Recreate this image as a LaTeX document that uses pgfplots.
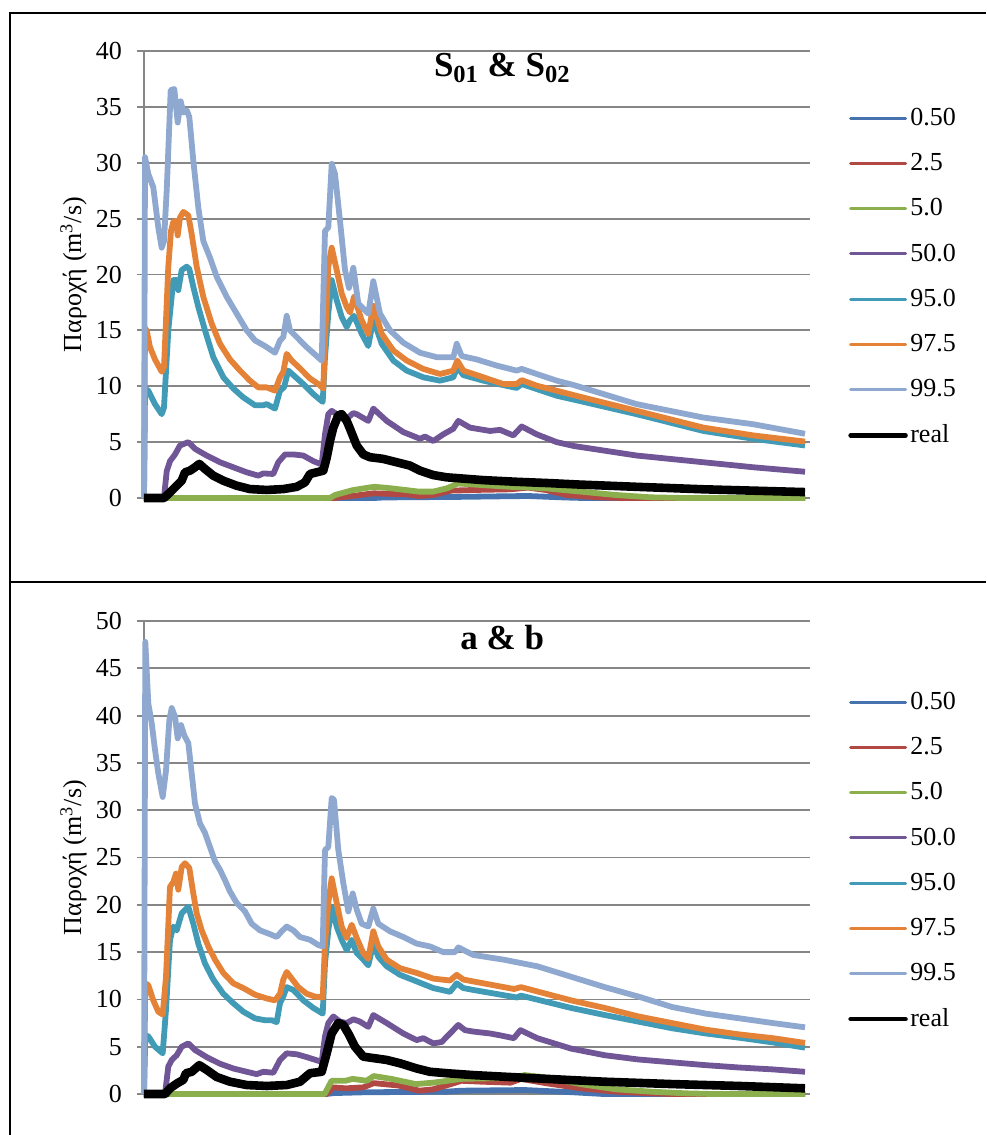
\documentclass[border=0pt]{standalone}
\usepackage{pgfplots}
\pgfplotsset{compat=1.18}
\usepackage{fontspec}
\setmainfont{Liberation Serif}
\definecolor{cA}{RGB}{70,115,175}
\definecolor{cB}{RGB}{178,72,68}
\definecolor{cC}{RGB}{140,175,78}
\definecolor{cD}{RGB}{112,86,150}
\definecolor{cE}{RGB}{65,155,182}
\definecolor{cF}{RGB}{228,131,55}
\definecolor{cG}{RGB}{143,168,208}
\definecolor{gridgray}{RGB}{134,134,134}
\pgfplotsset{
  panel/.style={
    scale only axis, width=333pt,
    xmin=0, xmax=666, ymin=0,
    axis lines*=left, axis line style={color=gridgray, line width=0.9pt, -},
    xtick=\empty,
    ymajorgrids, major grid style={color=gridgray, line width=0.9pt},
    ytick style={color=gridgray, line width=0.9pt},
    tick align=outside, major tick length=3.5pt,
    yticklabel style={font=\fontsize{13}{15}\selectfont, text=black, xshift=-4pt},
    /pgf/number format/assume math mode=true,
    ylabel={Παροχή (m\textsuperscript{3}/s)},
    ylabel style={font=\fontsize{13}{15}\selectfont, at={(axis description cs:-0.1059,0.5)}, anchor=center},
    clip=false,
    legend cell align=left,
    legend style={draw=none, fill=none, font=\fontsize{13}{15}\selectfont, row sep=10pt, column sep=0pt,
      nodes={inner sep=1.25pt}},
    legend image code/.code={\draw[##1, line cap=round, line width=0.72\pgflinewidth] (0pt,0pt) -- (27.5pt,0pt);},
    every axis plot/.append style={line width=2.9pt, line join=round, no marks},
    title style={font=\fontsize{17.5}{20}\selectfont\bfseries, inner sep=0pt, anchor=north, yshift=-6pt},
  }
}
\begin{document}
\begin{tikzpicture}
\useasboundingbox (0,0) rectangle (493pt,-567.5pt);
\draw[line width=1.2pt] (5pt,-567.5pt) -- (5pt,-6.5pt) -- (493pt,-6.5pt);
\draw[line width=1.2pt] (5pt,-291pt) -- (493pt,-291pt);
\begin{axis}[panel, at={(72pt,-249pt)}, anchor=south west, height=223.5pt,
  ymax=40, ytick={0,5,...,40},
  title={S\textsubscript{01} \& S\textsubscript{02}},
  title style={at={(axis description cs:0.538,0.995)}},
  legend style={at={(axis description cs:1.048,0.888)}, anchor=north west}]
\addplot[cA] coordinates {(0,0) (230,0) (240,0.05) (314,0.1) (384,0.18) (420,0.05) (440,0) (661,0)};
\addplot[cB] coordinates {(0,0) (189,0) (208.6,0.18) (229.7,0.42) (261,0.33) (275.3,0.18) (289.3,0.27) (306.9,0.66) (331,0.72) (366.5,0.78) (384,0.93) (401.6,0.72) (422.7,0.27) (454,0.06) (480,0) (661,0)};
\addplot[cC] coordinates {(0,0) (186,0) (191,0.27) (208.6,0.7) (226,0.95) (231,1.0) (247,0.87) (275,0.57) (289,0.57) (303,0.87) (314,1.3) (331,1.2) (366.5,1.0) (384,0.95) (401.6,0.87) (436.7,0.57) (471.8,0.27) (507,0.06) (540,0) (661,0)};
\addplot[cD] coordinates {(0,0) (20,0) (22.7,2.4) (26,3.3) (31,3.9) (36,4.7) (44.3,5.0) (51,4.4) (62.7,3.8) (76,3.2) (89.3,2.75) (102.7,2.3) (114.3,2.0) (119.3,2.2) (129.3,2.15) (134.3,3.2) (141,3.9) (149.3,3.9) (159.3,3.8) (169.3,3.3) (177.7,3.0) (181,5.7) (184.3,7.5) (187.7,7.8) (192.7,7.5) (202.7,7.1) (209.3,7.6) (212.7,7.5) (224.3,6.9) (229.3,8.0) (242.7,6.9) (259.3,5.9) (276,5.3) (281,5.5) (289.3,5.1) (299.3,5.7) (309.3,6.2) (314.3,6.9) (326,6.3) (346,6.0) (356,6.1) (369.3,5.6) (377.7,6.4) (392.7,5.7) (412.7,5.0) (430,4.65) (492.7,3.8) (559.3,3.2) (609.3,2.75) (661,2.35)};
\addplot[cE] coordinates {(0,0) (1,9.8) (4.3,9.6) (11,8.4) (17.7,7.5) (20,8.1) (24.3,15) (29.3,19.5) (32.7,19.5) (34.3,18.6) (37.7,20.4) (42.7,20.7) (45.3,20.5) (49.3,18.9) (54.3,17.1) (61,15) (69.3,12.6) (79.3,10.8) (89.3,9.8) (99.3,9.0) (111,8.3) (119.3,8.3) (122.7,8.4) (131,8.0) (136,9.6) (140,9.9) (144.3,11.4) (149.3,11.0) (159.3,10.2) (169.3,9.3) (178.7,8.6) (181,12.6) (184.3,16.5) (187.7,19.5) (192.7,17.7) (197.7,16.2) (202.7,15.3) (206,15.9) (210,16.3) (217.7,14.7) (224.3,13.6) (229.3,16.0) (237.7,13.8) (249.3,12.3) (262.7,11.4) (279.3,10.8) (296,10.5) (309.3,10.8) (313.3,11.7) (319.3,11.0) (339.3,10.5) (359.3,10.1) (372.7,9.85) (377.7,10.2) (392.7,9.75) (412.7,9.15) (430,8.8) (492.7,7.5) (559.3,6.0) (609.3,5.3) (661,4.7)};
\addplot[cF] coordinates {(0,0) (1,15.2) (2.7,15.0) (6,13.5) (11,12.4) (17.7,11.3) (20,11.7) (24.3,20.7) (27,23.9) (29.3,24.7) (32,24.8) (33.7,23.5) (36,25.1) (39.3,25.6) (44.3,25.3) (47.7,23.6) (52.7,20.7) (59.3,18) (67.7,15.6) (76,13.8) (86,12.4) (96,11.4) (106,10.5) (114.3,9.9) (122.7,9.9) (131,9.6) (136,10.8) (139.3,11.3) (142.7,12.9) (147.7,12.3) (156,11.6) (166,10.7) (174.3,10.2) (179.3,9.8) (181,14.1) (184.3,20.7) (187.7,22.4) (192.7,20.4) (197.7,18.3) (202.7,17.1) (206,16.6) (210,18.0) (217.7,15.9) (224.3,14.7) (229.3,17.2) (237.7,14.7) (249.3,13.2) (262.7,12.3) (279.3,11.55) (296,11.1) (309.3,11.4) (313.3,12.3) (319.3,11.4) (339.3,10.8) (359.3,10.2) (372.7,10.2) (377.7,10.55) (392.7,10.05) (412.7,9.6) (430,9.2) (492.7,7.8) (559.3,6.3) (609.3,5.6) (661,5.05)};
\addplot[cG] coordinates {(0,0) (1,30.5) (4.3,29) (9.3,27.8) (14.3,24.2) (17.7,22.4) (20,23) (22.7,27.5) (26.7,36.5) (30.3,36.6) (33.7,33.6) (36.7,35.5) (39.3,34.5) (42.7,34.7) (45.3,34.1) (49.3,30.2) (54.3,26) (59.3,23) (66,21.5) (72.7,19.8) (82.7,18) (92.7,16.5) (102.7,15) (111,14.1) (121,13.6) (131,13.0) (136,14.1) (139.3,14.4) (142.7,16.3) (146,15.0) (152.7,14.4) (162.7,13.5) (172.7,12.7) (177.7,12.3) (181,23.9) (184.3,24.2) (187.7,29.9) (191,29) (196,24.8) (201,20.4) (205,18.8) (209.3,20.6) (214.3,17.4) (224.3,16.5) (229.3,19.4) (236,16.5) (246,15.0) (259.3,13.9) (276,13.0) (292.7,12.6) (309.3,12.6) (312.7,13.8) (317.7,12.7) (332.7,12.4) (352.7,11.85) (372.7,11.4) (377.7,11.55) (392.7,11.1) (412.7,10.5) (430,10.1) (492.7,8.4) (559.3,7.2) (609.3,6.6) (661,5.75)};
\addplot[black, line width=4.3pt] coordinates {(0,0) (20,0) (26,0.5) (32.7,1.1) (37.7,1.55) (41,2.3) (46,2.45) (51,2.75) (55.3,3.05) (61,2.6) (69.3,2.0) (79.3,1.55) (92.7,1.1) (106,0.8) (122.7,0.72) (139.3,0.8) (152.7,1.0) (161,1.4) (166,2.15) (172.7,2.3) (179.3,2.45) (182.7,3.6) (186,5.1) (189.3,6.3) (194.3,7.4) (197.7,7.5) (202.7,6.9) (206,6.2) (212.7,4.7) (219.3,3.9) (226,3.65) (239.3,3.5) (252.7,3.2) (266,2.9) (276,2.45) (289.3,2.05) (302.7,1.85) (339.3,1.6) (372.7,1.45) (406,1.33) (436,1.2) (492.7,1.0) (559.3,0.78) (661,0.53)};
\legend{0.50,2.5,5.0,50.0,95.0,97.5,99.5,real}
\end{axis}
\begin{axis}[panel, at={(72pt,-547pt)}, anchor=south west, height=236.5pt,
  ymax=50, ytick={0,5,...,50},
  title={a \& b},
  title style={at={(axis description cs:0.538,0.9915)}},
  legend style={at={(axis description cs:1.048,0.8647)}, anchor=north west}]
\addplot[cA] coordinates {(0,0) (182,0) (190,0.1) (219,0.18) (303,0.25) (317,0.35) (380.6,0.42) (429.7,0.18) (460,0) (661,0)};
\addplot[cB] coordinates {(0,0) (182.3,0) (189.3,0.7) (201.6,0.6) (219.2,0.7) (229.7,1.15) (254.2,0.9) (275.3,0.35) (289.3,0.5) (306.9,1.05) (317.4,1.4) (338.5,1.3) (366.5,1.2) (377,1.6) (401.6,1.15) (436.7,0.6) (471.8,0.25) (506.9,0.07) (530,0) (661,0)};
\addplot[cC] coordinates {(0,0) (180.6,0) (187.6,1.4) (201.6,1.4) (208.6,1.6) (222.7,1.4) (229.7,1.9) (247.2,1.6) (271.8,1.05) (289.3,1.2) (303.4,1.4) (317.4,1.6) (338.5,1.65) (366.5,1.7) (380.6,2.0) (401.6,1.75) (436.7,1.05) (471.8,0.5) (506.9,0.25) (542,0.07) (570,0) (661,0)};
\addplot[cD] coordinates {(0,0) (21,0) (24.3,2.9) (27.7,3.6) (32.7,4.1) (37.7,5.0) (44.3,5.35) (51,4.65) (62.7,3.9) (76,3.2) (89.3,2.7) (102.7,2.35) (112.7,2.1) (119.3,2.35) (129.3,2.25) (136,3.6) (142.7,4.3) (152.7,4.2) (162.7,3.9) (177.7,3.4) (181,6.1) (184.3,7.5) (189.3,8.2) (196,7.65) (202.7,7.5) (209.3,7.9) (216,7.65) (224.3,7.1) (229.3,8.35) (242.7,7.5) (259.3,6.4) (272.7,5.7) (279.3,5.9) (289.3,5.35) (297.7,5.5) (306,6.4) (314.3,7.3) (321,6.75) (329.3,6.6) (346,6.4) (356.3,6.2) (369.8,5.9) (376.5,6.75) (393.3,5.9) (427,4.8) (460.7,4.1) (494.4,3.65) (528,3.35) (561.7,3.05) (595.4,2.8) (629,2.6) (661,2.35)};
\addplot[cE] coordinates {(0,0) (1.3,6.2) (4.3,6.1) (11,5.0) (18.7,4.3) (22,8.9) (26,16.3) (29.3,17.7) (32.7,17.3) (37.7,19.1) (44.3,19.8) (49.3,18.0) (54.3,15.9) (61,13.8) (69.3,12.1) (79.3,10.6) (89.3,9.6) (99.3,8.7) (111,8.0) (121,7.8) (127.7,7.8) (132.7,7.6) (136,9.6) (139.3,10.3) (142.7,11.3) (149.3,11.0) (159.3,9.9) (169.3,9.1) (178.7,8.5) (181,13.8) (184.3,17.3) (187.7,19.8) (192.7,17.7) (197.7,16.3) (202.7,15.2) (207.7,16.3) (212.7,14.9) (219.3,14.2) (224.3,13.6) (229.3,15.9) (234.3,14.5) (242.7,13.5) (256,12.6) (272.7,11.9) (289.3,11.2) (306,10.8) (312.7,11.7) (319.3,11.2) (329.3,11.0) (373,10.2) (377,10.4) (427,9.1) (460.7,8.35) (494.4,7.65) (528,6.95) (561.7,6.4) (595.4,5.95) (629,5.45) (661,4.9)};
\addplot[cF] coordinates {(0,0) (1.3,11.7) (4.3,11.5) (9.3,9.9) (14.3,8.7) (18.7,8.4) (22,12.4) (26,21.9) (29.3,22.4) (32,23.3) (34.3,21.6) (37.7,24.0) (41,24.4) (45.3,23.9) (48.7,21.6) (52.7,19.1) (57.7,17.3) (64.3,15.6) (71,14.2) (79.3,12.8) (89.3,11.7) (99.3,11.2) (111,10.5) (122.7,10.1) (131,9.9) (136,10.6) (139.3,12.1) (142.7,12.9) (147.7,12.2) (154.3,11.3) (162.7,10.6) (171,10.3) (178.7,10.2) (181,15.9) (184.3,20.2) (187.7,22.8) (192.7,20.2) (197.7,17.7) (202.7,16.5) (207.7,17.9) (212.7,16.5) (219.3,14.9) (224.3,14.3) (229.3,17.2) (234.3,15.6) (242.7,14.2) (256,13.3) (272.7,12.8) (289.3,12.2) (306,12.0) (312.7,12.6) (319.3,12.1) (329.3,11.9) (370,11.1) (377,11.3) (427,9.9) (460.7,9.1) (494.4,8.2) (528,7.5) (561.7,6.8) (595.4,6.3) (629,5.9) (661,5.4)};
\addplot[cG] coordinates {(0,0) (1.3,47.8) (4.3,41.3) (7.7,39.2) (11,36.4) (14.3,33.9) (18.7,31.4) (22,34.2) (25.3,39.5) (27.7,40.8) (31,39.9) (33.7,37.6) (37,39.0) (40.3,37.9) (44.3,37.1) (47.7,33.9) (51,30.7) (56,28.6) (61,27.6) (66,26.1) (71,24.6) (76,23.7) (81,22.6) (86,21.4) (92.7,20.2) (101,19.3) (107.7,18.0) (116,17.3) (126,16.9) (132.7,16.6) (137.7,17.2) (142.7,17.7) (149.3,17.3) (156,16.6) (166,16.3) (174.3,15.75) (178.7,15.6) (181,25.8) (184.3,26.1) (187.7,31.3) (190,31.1) (194.3,25.8) (199.3,22.3) (204.3,19.3) (208.7,21.2) (212.7,19.5) (217.7,18.0) (224.3,17.7) (229.3,19.6) (234.3,18.0) (246,17.2) (259.3,16.6) (272.7,15.9) (286,15.6) (299.3,15.0) (311,15.0) (314.3,15.5) (329.3,14.7) (359.7,14.2) (393.3,13.5) (427,12.4) (460.7,11.3) (494.4,10.3) (528,9.2) (561.7,8.5) (595.4,8.0) (629,7.5) (661,7.05)};
\addplot[black, line width=4.3pt] coordinates {(0,0) (21,0) (26,0.6) (32.7,1.1) (39.3,1.5) (42,2.2) (47.7,2.35) (55.3,3.05) (62.7,2.55) (72.7,1.8) (86,1.3) (102.7,0.95) (122.7,0.85) (142.7,0.95) (156,1.3) (166,2.2) (177.7,2.35) (182.7,4.3) (187.7,6.4) (194.3,7.5) (199.3,7.3) (204.3,6.4) (211,5.0) (219.3,3.95) (229.3,3.8) (242.7,3.6) (256,3.25) (272.7,2.7) (286,2.35) (302.7,2.2) (329.3,2.0) (393,1.65) (460.7,1.3) (528,1.05) (595.4,0.85) (661,0.6)};
\legend{0.50,2.5,5.0,50.0,95.0,97.5,99.5,real}
\end{axis}
\end{tikzpicture}
\end{document}
